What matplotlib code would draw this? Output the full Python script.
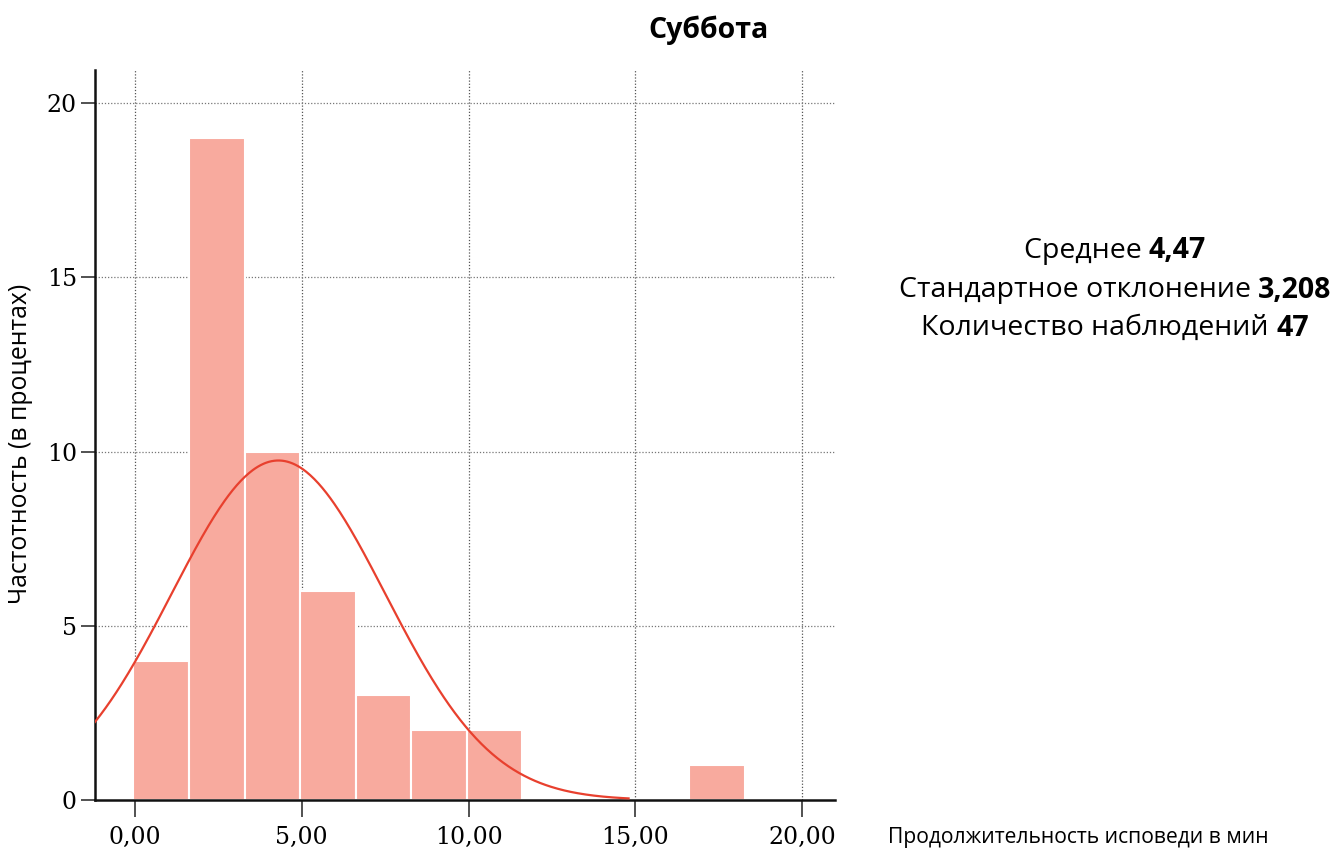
import numpy as np
import matplotlib
matplotlib.use('Agg')
from matplotlib import pyplot as plt

# данные гистограммы (Суббота)
bin_start = -0.05
bin_width = 1.667
counts = [4, 19, 10, 6, 3, 2, 2, 0, 0, 0, 1]

# параметры нормальной кривой
mean_val = 4.47
std_val = 3.208
n_obs = 47
curve_center = 4.3
curve_end = 14.8

xticks = [0, 5, 10, 15, 20]
xtick_labels = ['0,00', '5,00', '10,00', '15,00', '20,00']
yticks = [0, 5, 10, 15, 20]

stats_lines = [('Среднее', '4,47'),
               ('Стандартное отклонение', '3,208'),
               ('Количество наблюдений', '47')]

sans = 'Open Sans'
serif = 'DejaVu Serif'

fig = plt.figure(figsize=(13.34, 8.52), dpi=100)
ax = fig.add_axes([95/1334, 1-800/852, (835-95)/1334, (800-70)/852])

edges = bin_start + bin_width*np.arange(len(counts))
ax.bar(edges, counts, width=bin_width, align='edge', color='#F8AA9E',
       edgecolor='white', linewidth=1.5, zorder=2)

xs = np.linspace(-1.2, curve_end, 400)
ys = n_obs*bin_width/(std_val*np.sqrt(2*np.pi))*np.exp(-0.5*((xs-curve_center)/std_val)**2)
ax.plot(xs, ys, color='#E8402E', lw=1.6, zorder=3)

ax.set_xlim(-1.2, 20.99)
ax.set_ylim(0, 20.95)
ax.set_xticks(xticks)
ax.set_xticklabels(xtick_labels, family=serif, fontsize=17)
ax.set_yticks(yticks)
ax.set_yticklabels([str(v) for v in yticks], family=serif, fontsize=17)
ax.tick_params(axis='x', length=12, width=1.2, pad=7, color='#333333')
ax.tick_params(axis='y', length=10, width=1.2, pad=3, color='#333333')

for v in xticks:
    ax.axvline(v, color='#555555', ls=(0, (1, 1.5)), lw=0.9, zorder=1)
for v in yticks[1:]:
    ax.axhline(v, color='#777777', ls=(0, (1, 1.5)), lw=0.9, zorder=1)

for s in ['top', 'right']:
    ax.spines[s].set_visible(False)
for s in ['left', 'bottom']:
    ax.spines[s].set_linewidth(1.8)
    ax.spines[s].set_color('#111111')

fig.text(21/1334, 1-444/852, 'Частотность (в процентах)', family=sans,
         fontsize=17.8, rotation=90, ha='center', va='center')
fig.text(888/1334, 1-838/852, 'Продолжительность исповеди в мин', family=sans,
         fontsize=15.2, ha='left', va='center')

fig.text(708/1334, 1-30/852, 'Суббота', family=sans, fontsize=20.5,
         fontweight='bold', ha='center', va='center')

# статистика справа: обычный текст + жирное значение, строка по центру
renderer = fig.canvas.get_renderer()
cx = 1115/1334
line_y = [251, 290, 328]
for (label, val), yp in zip(stats_lines, line_y):
    t1 = fig.text(0, 1-yp/852, label + ' ', family=sans, fontsize=20.5,
                  ha='left', va='center')
    t2 = fig.text(0, 1-yp/852, val, family=sans, fontsize=20.5,
                  fontweight='bold', ha='left', va='center')
    w1 = t1.get_window_extent(renderer).width/fig.bbox.width
    w2 = t2.get_window_extent(renderer).width/fig.bbox.width
    x0 = cx - (w1+w2)/2
    t1.set_x(x0)
    t2.set_x(x0 + w1)

fig.savefig('out.png', dpi=100)
